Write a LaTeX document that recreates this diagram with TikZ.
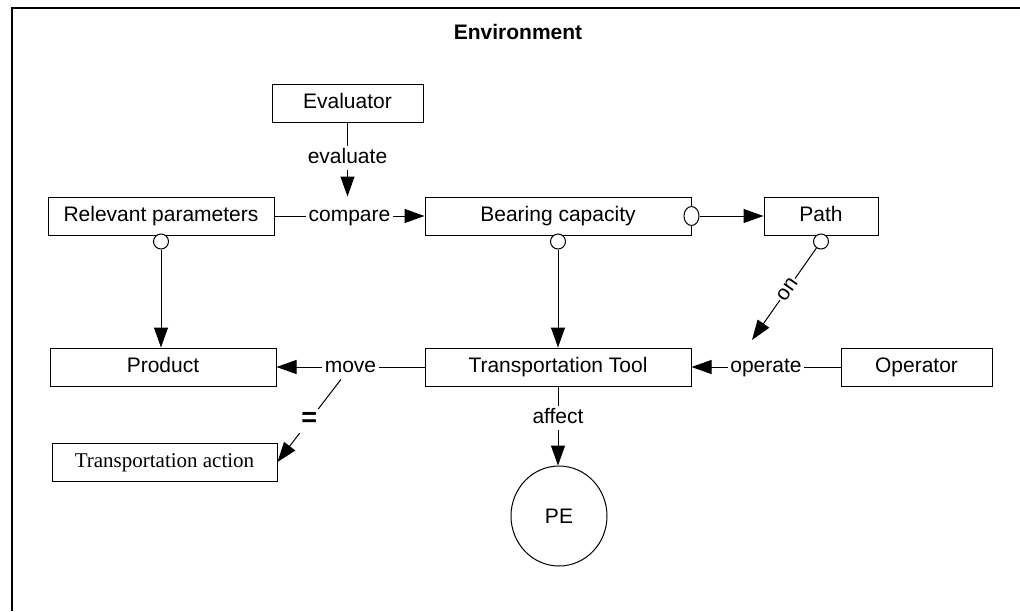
\documentclass[tikz,border=0pt]{standalone}
\usepackage{fontspec}
\setmainfont{Liberation Sans}
\newfontfamily\timesface{Liberation Serif}
\usetikzlibrary{arrows.meta,shapes.geometric}

\begin{document}
\begin{tikzpicture}[x=1pt,y=-1pt,
  every node/.style={font=\fontsize{21}{25}\selectfont},
  box/.style={draw, line width=1pt, minimum height=38pt, inner sep=0pt,
              text height=15pt, text depth=4pt},
  lbl/.style={fill=white, inner sep=2.5pt, text height=15pt, text depth=4pt},
  port/.style={draw, ellipse, fill=white, minimum width=15pt, minimum height=15pt,
               inner sep=0pt, line width=1pt},
  conn/.style={line width=1pt},
  arr/.style={conn, -{Triangle[length=20pt,width=14pt]}},
]
\useasboundingbox (0,0) rectangle (1020,611);

% environment frame and title
\draw[line width=1.2pt] (12,611) -- (12,8) -- (1020,8);
\node[font=\fontsize{21}{25}\selectfont\bfseries] (env) at (518,32) {Environment};

% concepts
\node[box, minimum width=151pt] (eval) at (347.5,103) {Evaluator};
\node[box, minimum width=226pt] (rel)  at (161,216) {Relevant parameters};
\node[box, minimum width=266pt] (bear) at (558,216) {Bearing capacity};
\node[box, minimum width=114pt] (path) at (821,216) {Path};
\node[box, minimum width=226pt] (prod) at (163,367) {Product};
\node[box, minimum width=266pt] (tool) at (558,367) {Transportation Tool};
\node[box, minimum width=151pt] (oper) at (916.5,367) {Operator};
\node[box, minimum width=225pt, font=\fontsize{21}{25}\selectfont\timesface] (ta) at (164.5,462) {Transportation action};
\node[draw, ellipse, line width=1pt, minimum width=96pt, minimum height=100pt] (pe) at (559,516) {PE};

% attribute ports
\node[port, anchor=north, yshift=2pt] (relport)   at (rel.south) {};
\node[port, minimum height=19pt]      (bearport)  at (bear.east) {};
\node[port, anchor=north, yshift=2pt] (bearsport) at (bear.south) {};
\node[port, anchor=north, yshift=2pt] (pathport)  at (path.south) {};

% relations
\draw[arr] (rel) -- node[lbl] (cmp) {compare} (bear);
\draw[arr, shorten >=7pt] (eval) -- node[lbl, pos=0.44] {evaluate} (eval |- cmp.north);
\draw[arr] (bearport) -- (path);
\draw[arr] (relport) -- (relport |- prod.north);
\draw[arr] (bearsport) -- (bearsport |- tool.north);
\draw[arr] (tool) -- node[lbl] (mv) {move} (prod);
\draw[arr] (oper) -- node[lbl] (op) {operate} (tool);
\coordinate (onend) at (752,340);
\draw[arr] (pathport) -- node[lbl, sloped, pos=0.45, inner sep=1.5pt] {on} (onend);
\draw[arr] (mv) -- node[lbl, font=\fontsize{27}{30}\selectfont\bfseries] {=} (ta.east);
\draw[arr] (tool) -- node[lbl, pos=0.4] {affect} (tool |- pe.north);
\end{tikzpicture}
\end{document}
